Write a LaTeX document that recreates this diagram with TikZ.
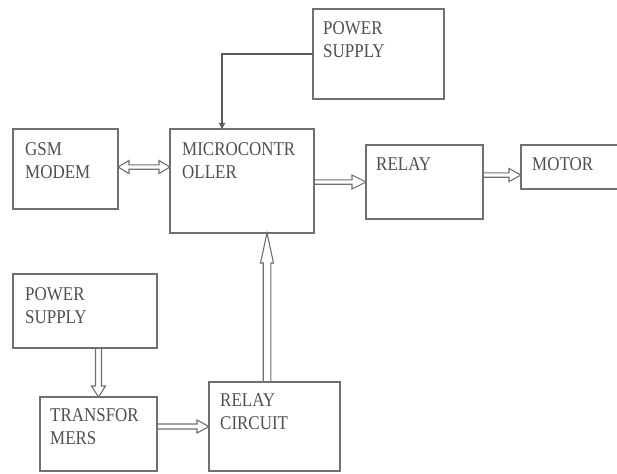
\documentclass[tikz,border=0pt]{standalone}
\usepackage{fontspec}
\setmainfont{Liberation Serif}[FakeStretch=0.87]
\usetikzlibrary{calc,fit,arrows.meta}
\definecolor{boxc}{RGB}{112,112,112}
\definecolor{txtc}{RGB}{80,80,80}
\tikzset{
  box/.style={draw=boxc, line width=1.6pt, inner sep=0pt, outer sep=0pt, rectangle},
  txt/.style={anchor=north west, inner sep=0pt, align=left, text=txtc,
    font={\fontsize{19.5}{23}\selectfont}},
  thinarrow/.style={draw=boxc!80!black, line width=1.3pt, -{Triangle[length=6pt,width=6pt]}},
  fatline/.style={draw=boxc, line width=1.1pt, line join=miter},
  fat/.style n args={3}{to path={
    let \p1=(\tikztostart), \p2=(\tikztotarget), \n1={veclen(\x2-\x1,\y2-\y1)},
        \p3=({(\x2-\x1)/\n1*1pt},{(\y2-\y1)/\n1*1pt}) in
    ({\x1-#2*(\y3)},{\y1+#2*(\x3)})
    -- ({\x2-#1*(\x3)-#2*(\y3)},{\y2-#1*(\y3)+#2*(\x3)})
    -- ({\x2-#1*(\x3)-#3*(\y3)},{\y2-#1*(\y3)+#3*(\x3)})
    -- (\p2)
    -- ({\x2-#1*(\x3)+#3*(\y3)},{\y2-#1*(\y3)-#3*(\x3)})
    -- ({\x2-#1*(\x3)+#2*(\y3)},{\y2-#1*(\y3)-#2*(\x3)})
    -- ({\x1+#2*(\y3)},{\y1-#2*(\x3)})
  }},
  fatboth/.style n args={3}{to path={
    let \p1=(\tikztostart), \p2=(\tikztotarget), \n1={veclen(\x2-\x1,\y2-\y1)},
        \p3=({(\x2-\x1)/\n1*1pt},{(\y2-\y1)/\n1*1pt}) in
    (\p1)
    -- ({\x1+#1*(\x3)-#3*(\y3)},{\y1+#1*(\y3)+#3*(\x3)})
    -- ({\x1+#1*(\x3)-#2*(\y3)},{\y1+#1*(\y3)+#2*(\x3)})
    -- ({\x2-#1*(\x3)-#2*(\y3)},{\y2-#1*(\y3)+#2*(\x3)})
    -- ({\x2-#1*(\x3)-#3*(\y3)},{\y2-#1*(\y3)+#3*(\x3)})
    -- (\p2)
    -- ({\x2-#1*(\x3)+#3*(\y3)},{\y2-#1*(\y3)-#3*(\x3)})
    -- ({\x2-#1*(\x3)+#2*(\y3)},{\y2-#1*(\y3)-#2*(\x3)})
    -- ({\x1+#1*(\x3)+#2*(\y3)},{\y1+#1*(\y3)-#2*(\x3)})
    -- ({\x1+#1*(\x3)+#3*(\y3)},{\y1+#1*(\y3)-#3*(\x3)})
    -- cycle
  }},
}
\begin{document}
\begin{tikzpicture}[x=1pt,y=-1pt]
\useasboundingbox (0,0) rectangle (617,473);
\clip (0,0) rectangle (617,473);
\fill[white] (0,0) rectangle (617,473);
% boxes
\node[box, fit={(313,9) (444,99)}] (ps1) {};
\node[box, fit={(13,129) (118,209)}] (gsm) {};
\node[box, fit={(170,129) (314,233)}] (mc) {};
\node[box, fit={(366,145) (483,219)}] (relay) {};
\node[box, fit={(521,145) (640,189)}] (motor) {};
\node[box, fit={(13,274) (157,348)}] (ps2) {};
\node[box, fit={(40,397) (157,471)}] (tr) {};
\node[box, fit={(209,382) (340,471)}] (rc) {};
% texts
\node[txt] (ps1t) at ([shift={(10,12)}]ps1.north west) {POWER\\SUPPLY};
\node[txt] (gsmt) at ([shift={(12,13)}]gsm.north west) {GSM\\MODEM};
\node[txt] (mct) at ([shift={(12,13)}]mc.north west) {MICROCONTR\\OLLER};
\node[txt] (relayt) at ([shift={(10,12)}]relay.north west) {RELAY};
\node[txt] (motort) at ([shift={(11,12)}]motor.north west) {MOTOR};
\node[txt] (ps2t) at ([shift={(12,13)}]ps2.north west) {POWER\\SUPPLY};
\node[txt] (trt) at ([shift={(10,11)}]tr.north west) {TRANSFOR\\MERS};
\node[txt] (rct) at ([shift={(11,11)}]rc.north west) {RELAY\\CIRCUIT};
% connectors
\draw[thinarrow] (ps1.west) -| ([xshift=52pt]mc.north west);
\draw[fatline] ([yshift=2pt]gsm.east) to[fatboth={11}{2.2}{6.5}] ([yshift=2pt]gsm.east -| mc.west);
\draw[fatline] (mc.east |- relay.west) to[fat={14}{2.2}{7}] (relay.west);
\draw[fatline] ([yshift=7pt]relay.east) to[fat={12}{2.2}{6.5}] ([yshift=7pt]relay.east -| motor.west);
\draw[fatline] (ps2.south -| tr.north) to[fat={11}{3}{7}] (tr.north);
\draw[fatline] (tr.east |- rc.west) to[fat={12}{2.5}{6.5}] (rc.west);
\coordinate (up) at ([xshift=-7.5pt]rc.north);
\draw[fatline] (up) to[fat={30}{3.8}{6.5}] (up |- mc.south);
\end{tikzpicture}
\end{document}
